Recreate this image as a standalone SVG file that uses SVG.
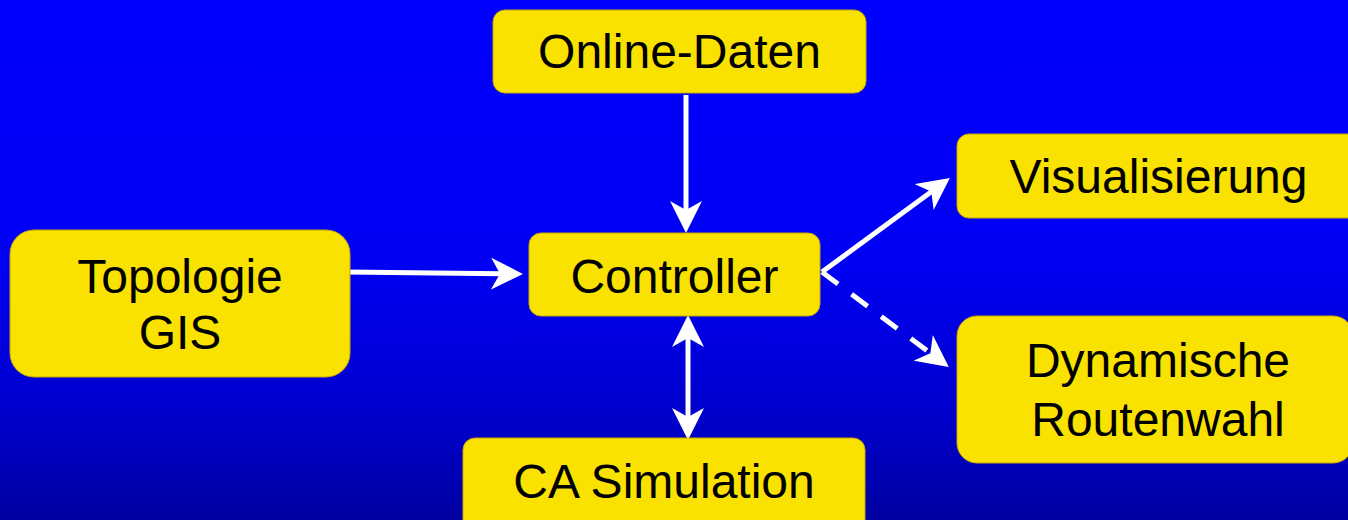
<svg xmlns="http://www.w3.org/2000/svg" width="1348" height="520" viewBox="0 0 1348 520">
  <defs>
    <linearGradient id="bg" x1="0" y1="0" x2="0" y2="1">
      <stop offset="0" stop-color="#0000FF"/>
      <stop offset="0.5" stop-color="#0000F4"/>
      <stop offset="0.8" stop-color="#0000CC"/>
      <stop offset="1" stop-color="#0000A0"/>
    </linearGradient>
    <marker id="ah" markerUnits="userSpaceOnUse" markerWidth="32" markerHeight="32" viewBox="0 0 32 32" refX="11" refY="16" orient="auto-start-reverse">
      <path d="M0,0 L32,16 L0,32 L9,16 Z" fill="#FFFFFF"/>
    </marker>
    <style>
      .box { fill: #F9E100; stroke: #C9A800; stroke-width: 1; }
      .lbl { font-family: "Liberation Sans", Arial, sans-serif; font-size: 48px; fill: #000000; text-anchor: middle; }
      .con { stroke: #FFFFFF; stroke-width: 5; fill: none; }
      .dash { stroke-dasharray: 20 17; }
    </style>
  </defs>
  <rect x="0" y="0" width="1348" height="520" fill="url(#bg)"/>

  <g id="connectors">
    <line class="con" x1="686" y1="95" x2="686" y2="212" marker-end="url(#ah)"/>
    <line class="con" x1="346" y1="272" x2="502" y2="273.8" marker-end="url(#ah)"/>
    <line class="con" x1="688" y1="336" x2="688" y2="419" marker-start="url(#ah)" marker-end="url(#ah)"/>
    <line class="con" x1="822" y1="272" x2="933" y2="190.5" marker-end="url(#ah)"/>
    <line class="con dash" x1="822" y1="272" x2="932" y2="354.5" marker-end="url(#ah)"/>
  </g>

  <g id="online-daten">
    <rect class="box" x="493" y="10" width="373" height="83" rx="12"/>
    <text class="lbl" x="679.5" y="68">Online-Daten</text>
  </g>
  <g id="topologie-gis">
    <rect class="box" x="10" y="230" width="340" height="147" rx="24"/>
    <text class="lbl" x="180" y="293">Topologie</text>
    <text class="lbl" x="180" y="349">GIS</text>
  </g>
  <g id="controller">
    <rect class="box" x="529" y="233" width="291" height="83" rx="12"/>
    <text class="lbl" x="674.5" y="293">Controller</text>
  </g>
  <g id="visualisierung">
    <rect class="box" x="957" y="134" width="403" height="84" rx="12"/>
    <text class="lbl" x="1158.5" y="193">Visualisierung</text>
  </g>
  <g id="dynamische-routenwahl">
    <rect class="box" x="957" y="316" width="396" height="147" rx="20"/>
    <text class="lbl" x="1158" y="377">Dynamische</text>
    <text class="lbl" x="1158" y="436">Routenwahl</text>
  </g>
  <g id="ca-simulation">
    <rect class="box" x="463" y="438" width="402" height="100" rx="12"/>
    <text class="lbl" x="664" y="498">CA Simulation</text>
  </g>
</svg>
